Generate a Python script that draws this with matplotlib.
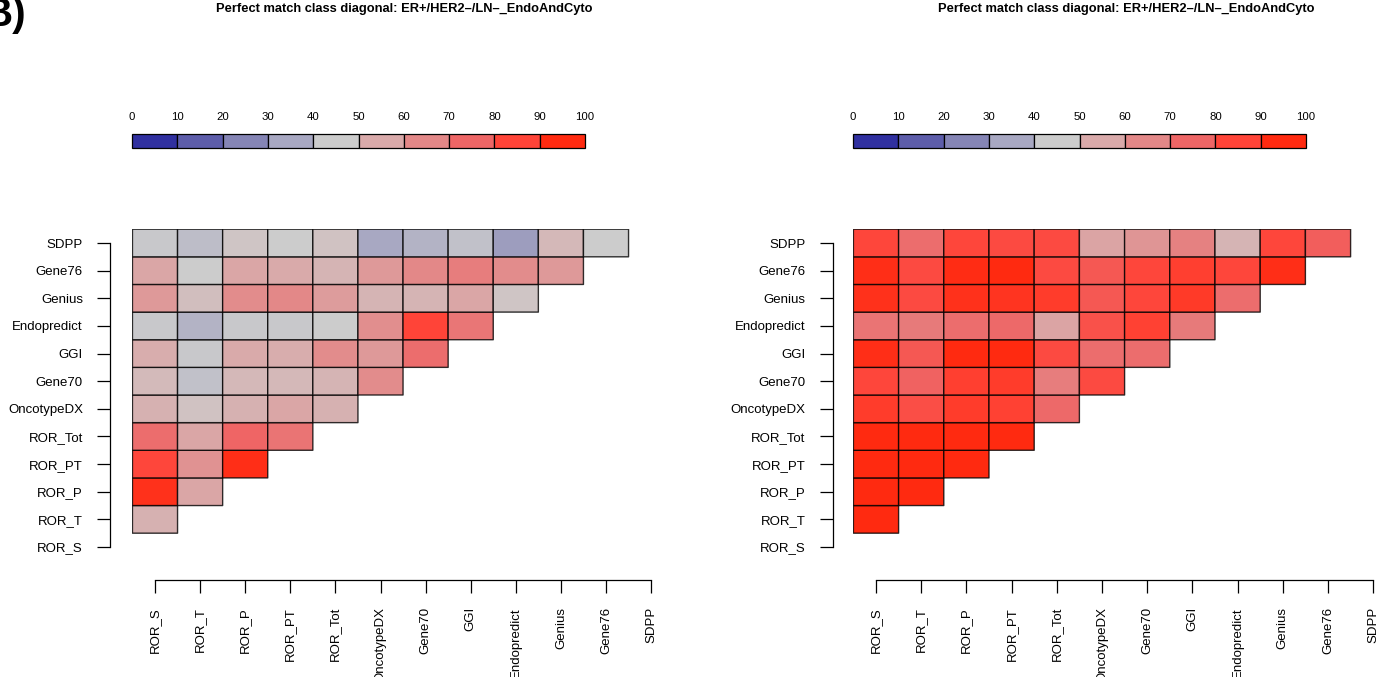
import numpy as np
import matplotlib
matplotlib.use("Agg")
import matplotlib.pyplot as plt
from matplotlib.colors import LinearSegmentedColormap
from matplotlib.patches import Rectangle

plt.rcParams['font.family'] = ['Liberation Sans', 'DejaVu Sans']

W, H = 1392, 677

labels = ['ROR_S', 'ROR_T', 'ROR_P', 'ROR_PT', 'ROR_Tot', 'OncotypeDX',
          'Gene70', 'GGI', 'Endopredict', 'Genius', 'Gene76', 'SDPP']
title = 'Perfect match class diagonal: ER+/HER2\u2013/LN\u2013_EndoAndCyto'

# colour bins of the legend (0-10, 10-20, ... 90-100)
bin_edges = [0, 10, 20, 30, 40, 50, 60, 70, 80, 90, 100]
bin_colors = ['#3030A0', '#5D5DAA', '#8585B5', '#A8A8C2', '#CCCCCC',
              '#D9AAAA', '#E38888', '#EE6666', '#FF4438', '#FF2A10']

# percent values, rows ROR_T .. SDPP, columns ROR_S .. (row - 1)
left_rows = [
    [53],
    [92, 56],
    [84, 62, 93],
    [73, 56, 75, 71],
    [53, 48, 53, 56, 53],
    [50, 42, 51, 51, 52, 64],
    [54, 44, 55, 54, 64, 60, 73],
    [44, 38, 44, 44, 45, 63, 85, 70],
    [60, 49, 64, 65, 59, 52, 52, 56, 47],
    [56, 45, 56, 55, 52, 60, 65, 68, 64, 60],
    [44, 41, 47, 45, 48, 35, 38, 42, 32, 51, 45],
]
right_rows = [
    [95],
    [96, 96],
    [96, 96, 95],
    [96, 96, 96, 96],
    [88, 82, 88, 86, 74],
    [84, 76, 87, 88, 68, 83],
    [93, 79, 96, 96, 83, 73, 73],
    [71, 69, 73, 74, 57, 81, 86, 69],
    [92, 83, 92, 91, 88, 79, 84, 89, 73],
    [93, 83, 94, 95, 83, 79, 84, 87, 84, 93],
    [84, 73, 84, 83, 83, 57, 61, 67, 52, 84, 77],
]

nodes = [(0.0, bin_colors[0])]
for k, c in enumerate(bin_colors):
    nodes.append(((bin_edges[k] + bin_edges[k + 1]) / 200.0, c))
nodes.append((1.0, bin_colors[-1]))
cmap = LinearSegmentedColormap.from_list('bgr', nodes)

fig = plt.figure(figsize=(W / 100, H / 100), dpi=100)


def px_axes(x0, y0, x1, y1):
    return fig.add_axes([x0 / W, 1 - y1 / H, (x1 - x0) / W, (y1 - y0) / H])


def panel(rows, xtick0, dx, yaxis_x, cbar_x0, cbar_x1, title_x):
    n = len(labels)
    dy = (547 - 243) / 11.0
    x0 = xtick0 - 0.5 * dx
    ax = px_axes(x0, 243 - 0.5 * dy, x0 + n * dx, 547 + 0.5 * dy)
    ax.patch.set_visible(False)

    mat = np.full((n, n), np.nan)
    for r, vals in enumerate(rows, start=1):
        mat[r, :len(vals)] = vals
    edges = np.arange(n + 1) - 0.5
    # pcolor leaves the masked (upper) cells out entirely
    ax.pcolor(edges, edges, np.ma.masked_invalid(mat), cmap=cmap,
              vmin=0, vmax=100, edgecolors=(0, 0, 0, 0.8), linewidth=1.0)
    ax.set_xlim(-0.5, n - 0.5)
    ax.set_ylim(-0.5, n - 0.5)

    for s in ['top', 'right']:
        ax.spines[s].set_visible(False)
    ax.spines['left'].set_position(('outward', (x0 - yaxis_x) * 0.72))
    ax.spines['bottom'].set_position(('outward', (580 - (547 + 0.5 * dy)) * 0.72))
    ax.spines['left'].set_bounds(0, n - 1)
    ax.spines['bottom'].set_bounds(0, n - 1)
    for s in ['left', 'bottom']:
        ax.spines[s].set_linewidth(0.9)
    ax.set_xticks(range(n))
    ax.set_yticks(range(n))
    ax.set_xticklabels(labels, rotation=90, fontsize=9.5)
    ax.set_yticklabels(labels, fontsize=9.5)
    ax.tick_params(length=9.5, width=0.9, pad=10)

    cax = px_axes(cbar_x0, 134, cbar_x1, 148)
    cax.set_xlim(0, 100)
    cax.set_ylim(0, 1)
    cax.axis('off')
    for k, c in enumerate(bin_colors):
        cax.add_patch(Rectangle((bin_edges[k], 0), 10, 1, facecolor=c,
                                edgecolor='black', linewidth=0.9, clip_on=False))
    for v in bin_edges:
        cax.text(v, 2.18, str(v), ha='center', va='center', fontsize=8.2)

    fig.text(title_x / W, 1 - 9 / H, title, ha='center', va='center',
             fontsize=9.3, fontweight='bold')


panel(left_rows, 155, 45.1, 110, 132, 585, 404)
panel(right_rows, 876, 45.2, 832.5, 853, 1306, 1126)

fig.text(-17 / W, 1 - 15 / H, 'B)', ha='left', va='center',
         fontsize=29, fontweight='bold')

fig.savefig('out.png', dpi=100)
